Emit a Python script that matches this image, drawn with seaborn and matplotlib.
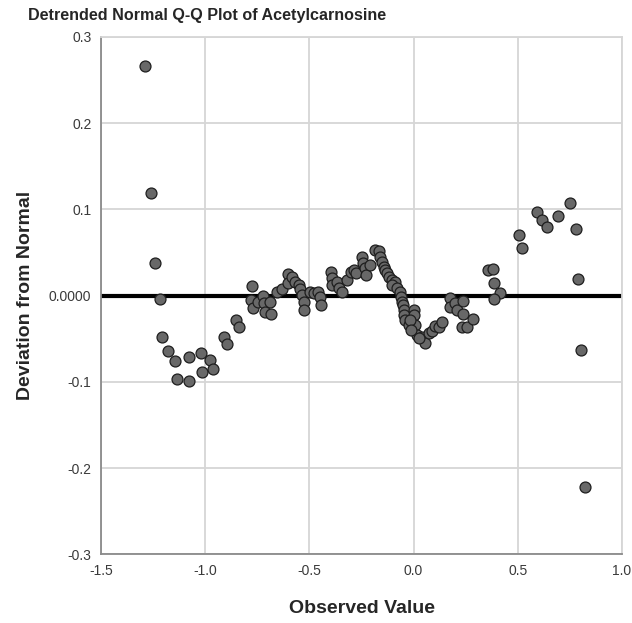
import numpy as np
import pandas as pd
import seaborn as sns
import matplotlib.pyplot as plt

observed = [
    -1.290, -1.262, -1.243, -1.218, -1.206, -1.177, -1.147, -1.134, -1.079, -1.079,
    -1.019, -1.016, -0.978, -0.965, -0.911, -0.898, -0.853, -0.840, -0.777, -0.779,
    -0.770, -0.748, -0.724, -0.719, -0.687, -0.714, -0.686, -0.655,
    -0.631, -0.604, -0.604, -0.583, -0.567, -0.551, -0.543, -0.535, -0.524, -0.524,
    -0.495, -0.479, -0.458, -0.451, -0.444, -0.396, -0.391, -0.391, -0.367, -0.360,
    -0.343, -0.319, -0.300, -0.288, -0.275, -0.247, -0.243, -0.232, -0.227, -0.208,
    -0.184, -0.168, -0.160, -0.152, -0.144, -0.136, -0.128, -0.120, -0.104, -0.088,
    -0.104, -0.080, -0.064, -0.059, -0.056, -0.051, -0.048, -0.045, -0.040, -0.024,
    0.000, 0.003, 0.008, 0.016, 0.040, 0.056, 0.072, -0.016, -0.011, 0.025,
    0.088, 0.104, 0.120, 0.136, 0.173, 0.176, 0.200, 0.208, 0.237, 0.237,
    0.232, 0.256, 0.283, 0.357, 0.381, 0.384, 0.416, 0.388, 0.508, 0.521,
    0.592, 0.616, 0.640, 0.692, 0.753, 0.779, 0.789, 0.802, 0.822,
]
deviation = [
    0.2665, 0.1193, 0.0382, -0.0042, -0.0482, -0.0641, -0.0753, -0.0965, -0.0714, -0.0988,
    -0.0667, -0.0884, -0.0745, -0.0846, -0.0482, -0.0560, -0.0285, -0.0366, 0.0112, -0.0050,
    -0.0143, -0.0070, -0.0003, -0.0081, -0.0073, -0.0192, -0.0212, 0.0046,
    0.0074, 0.0248, 0.0144, 0.0220, 0.0162, 0.0124, 0.0074, 0.0008, -0.0070, -0.0166,
    0.0046, 0.0035, 0.0046, -0.0012, -0.0108, 0.0278, 0.0202, 0.0124, 0.0162, 0.0086,
    0.0046, 0.0182, 0.0278, 0.0298, 0.0260, 0.0452, 0.0375, 0.0318, 0.0240, 0.0356,
    0.0530, 0.0521, 0.0452, 0.0394, 0.0336, 0.0298, 0.0260, 0.0220, 0.0182, 0.0162,
    0.0124, 0.0086, 0.0046, -0.0012, -0.0070, -0.0108, -0.0166, -0.0224, -0.0282, -0.0340,
    -0.0166, -0.0224, -0.0340, -0.0455, -0.0475, -0.0552, -0.0436, -0.0282, -0.0397, -0.0490,
    -0.0406, -0.0351, -0.0359, -0.0301, -0.0030, -0.0127, -0.0088, -0.0166, -0.0058, -0.0212,
    -0.0366, -0.0366, -0.0273, 0.0298, 0.0313, 0.0144, 0.0035, -0.0042, 0.0703, 0.0549,
    0.0973, 0.0877, 0.0800, 0.0927, 0.1071, 0.0769, 0.0194, -0.0629, -0.2213,
]

x_ticks = [-1.5, -1.0, -0.5, 0.0, 0.5, 1.0]
y_ticks = [-0.3, -0.2, -0.1, 0.0, 0.1, 0.2, 0.3]
y_tick_labels = ["-0.3", "-0.2", "-0.1", "0.0000", "0.1", "0.2", "0.3"]

sns.set_style("white")
plt.rcParams['font.family'] = ['Liberation Sans', 'DejaVu Sans']

df = pd.DataFrame({"Observed Value": observed, "Deviation from Normal": deviation})

fig = plt.figure(figsize=(6.32, 6.23), dpi=100)
ax = fig.add_axes([0.160, 0.110, 0.824, 0.831])

ax.grid(True, color="#d6d6d6", linewidth=1.3)
ax.set_axisbelow(True)
ax.axhline(0, color="black", linewidth=3, zorder=2)

sns.scatterplot(data=df, x="Observed Value", y="Deviation from Normal", ax=ax,
                color="#686868", edgecolor="#1e1e1e", linewidth=0.9, s=62, zorder=3)

ax.set_xlim(-1.5, 1.0)
ax.set_ylim(-0.3, 0.3)
ax.set_xticks(x_ticks)
ax.set_xticklabels([f"{v:.1f}" for v in x_ticks])
ax.set_yticks(y_ticks)
ax.set_yticklabels(y_tick_labels)
ax.tick_params(length=0, labelsize=10, labelcolor="#3a3a3a", pad=7)

for side in ["left", "bottom"]:
    ax.spines[side].set_color("#8a8a8a")
    ax.spines[side].set_linewidth(1.3)
for side in ["top", "right"]:
    ax.spines[side].set_color("#d6d6d6")
    ax.spines[side].set_linewidth(1.3)

ax.set_xlabel("Observed Value", fontsize=14, fontweight="bold", labelpad=16)
ax.set_ylabel("Deviation from Normal", fontsize=14, fontweight="bold", labelpad=11)

fig.text(0.044, 0.975, "Detrended Normal Q-Q Plot of Acetylcarnosine",
         fontsize=11.6, fontweight="bold", ha="left", va="center")

plt.savefig("out.png", dpi=100)
